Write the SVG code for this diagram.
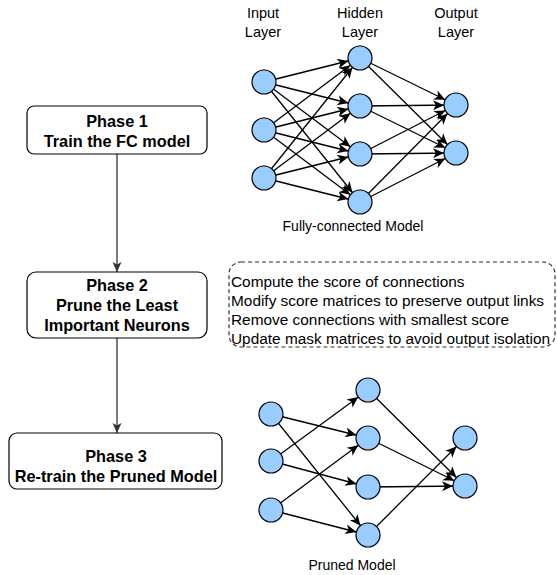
<svg xmlns="http://www.w3.org/2000/svg" width="557" height="575" viewBox="0 0 557 575">
<style>
.n{fill:#99CCFF;stroke:#000;stroke-width:1.2}
.e{stroke:#000;stroke-width:1.3;fill:none;marker-end:url(#an)}
.f{stroke:#333;stroke-width:1.3;fill:none;marker-end:url(#a)}
.box{fill:#fff;stroke:#000;stroke-width:1.2}
.pt{font-family:"Liberation Sans",Arial,sans-serif;font-weight:bold;font-size:16.3px;text-anchor:middle;fill:#000}
.lb{font-family:"Liberation Sans",Arial,sans-serif;font-size:14.5px;text-anchor:middle;fill:#000}
.tx{font-family:"Liberation Sans",Arial,sans-serif;font-size:15.4px;fill:#000}
</style>
<defs>
<marker id="an" markerUnits="userSpaceOnUse" markerWidth="40" markerHeight="12" viewBox="0 0 40 12" refX="23" refY="5" orient="auto" overflow="visible">
<path d="M0,0 L11,5 L0,10 L3,5 z" fill="#000"/>
</marker>
<marker id="a" markerUnits="userSpaceOnUse" markerWidth="12" markerHeight="12" viewBox="0 0 12 12" refX="10" refY="4.5" orient="auto" overflow="visible">
<path d="M0,0 L10,4.5 L0,9 L2.5,4.5 z" fill="#333"/>
</marker>
</defs>

<g id="labels">
<text class="lb" x="263" y="18">Input</text>
<text class="lb" x="263" y="37">Layer</text>
<text class="lb" x="360" y="18">Hidden</text>
<text class="lb" x="360" y="37">Layer</text>
<text class="lb" x="456" y="18">Output</text>
<text class="lb" x="456" y="37">Layer</text>
<text class="lb" x="353" y="231" style="font-size:14px">Fully-connected Model</text>
<text class="lb" x="352" y="570" style="font-size:14px">Pruned Model</text>
</g>

<g id="connectors">
<line class="f" x1="117" y1="154" x2="117" y2="272"/>
<line class="f" x1="117" y1="338" x2="117" y2="433"/>
<line class="e" x1="264" y1="82" x2="360" y2="58"/>
<line class="e" x1="264" y1="82" x2="360" y2="106"/>
<line class="e" x1="264" y1="82" x2="360" y2="154"/>
<line class="e" x1="264" y1="82" x2="360" y2="202"/>
<line class="e" x1="264" y1="130" x2="360" y2="58"/>
<line class="e" x1="264" y1="130" x2="360" y2="106"/>
<line class="e" x1="264" y1="130" x2="360" y2="154"/>
<line class="e" x1="264" y1="130" x2="360" y2="202"/>
<line class="e" x1="264" y1="178" x2="360" y2="58"/>
<line class="e" x1="264" y1="178" x2="360" y2="106"/>
<line class="e" x1="264" y1="178" x2="360" y2="154"/>
<line class="e" x1="264" y1="178" x2="360" y2="202"/>
<line class="e" x1="360" y1="58" x2="456" y2="105"/>
<line class="e" x1="360" y1="58" x2="456" y2="153"/>
<line class="e" x1="360" y1="106" x2="456" y2="105"/>
<line class="e" x1="360" y1="106" x2="456" y2="153"/>
<line class="e" x1="360" y1="154" x2="456" y2="105"/>
<line class="e" x1="360" y1="154" x2="456" y2="153"/>
<line class="e" x1="360" y1="202" x2="456" y2="105"/>
<line class="e" x1="360" y1="202" x2="456" y2="153"/>
<line class="e" x1="271" y1="414" x2="368" y2="438"/>
<line class="e" x1="271" y1="414" x2="368" y2="535"/>
<line class="e" x1="271" y1="461" x2="368" y2="390"/>
<line class="e" x1="271" y1="461" x2="368" y2="487"/>
<line class="e" x1="271" y1="510" x2="368" y2="438"/>
<line class="e" x1="271" y1="510" x2="368" y2="535"/>
<line class="e" x1="368" y1="390" x2="465" y2="486"/>
<line class="e" x1="368" y1="438" x2="465" y2="486"/>
<line class="e" x1="368" y1="487" x2="465" y2="486"/>
<line class="e" x1="368" y1="535" x2="465" y2="438"/>
</g>

<g id="phase1">
<rect class="box" x="27" y="106" width="180" height="48" rx="7"/>
<text class="pt" x="117" y="127">Phase 1</text>
<text class="pt" x="117" y="147">Train the FC model</text>
</g>
<g id="phase2">
<rect class="box" x="27" y="272" width="180" height="66" rx="9"/>
<text class="pt" x="117" y="291">Phase 2</text>
<text class="pt" x="117" y="311">Prune the Least</text>
<text class="pt" x="117" y="331">Important Neurons</text>
</g>
<g id="phase3">
<rect class="box" x="9" y="433" width="213" height="56" rx="8"/>
<text class="pt" x="116" y="462">Phase 3</text>
<text class="pt" x="116" y="482">Re-train the Pruned Model</text>
</g>
<g id="steps">
<rect x="229" y="262" width="326" height="85" rx="12" fill="none" stroke="#333" stroke-width="1.2" stroke-dasharray="4 3"/>
<text class="tx" x="231" y="287">Compute the score of connections</text>
<text class="tx" x="231" y="306">Modify score matrices to preserve output links</text>
<text class="tx" x="231" y="325">Remove connections with smallest score</text>
<text class="tx" x="231" y="344">Update mask matrices to avoid output isolation</text>
</g>

<g id="fc-in1"><circle class="n" cx="264" cy="82" r="12"/></g>
<g id="fc-in2"><circle class="n" cx="264" cy="130" r="12"/></g>
<g id="fc-in3"><circle class="n" cx="264" cy="178" r="12"/></g>
<g id="fc-h1"><circle class="n" cx="360" cy="58" r="12"/></g>
<g id="fc-h2"><circle class="n" cx="360" cy="106" r="12"/></g>
<g id="fc-h3"><circle class="n" cx="360" cy="154" r="12"/></g>
<g id="fc-h4"><circle class="n" cx="360" cy="202" r="12"/></g>
<g id="fc-o1"><circle class="n" cx="456" cy="105" r="12"/></g>
<g id="fc-o2"><circle class="n" cx="456" cy="153" r="12"/></g>

<g id="pr-in1"><circle class="n" cx="271" cy="414" r="12"/></g>
<g id="pr-in2"><circle class="n" cx="271" cy="461" r="12"/></g>
<g id="pr-in3"><circle class="n" cx="271" cy="510" r="12"/></g>
<g id="pr-h1"><circle class="n" cx="368" cy="390" r="12"/></g>
<g id="pr-h2"><circle class="n" cx="368" cy="438" r="12"/></g>
<g id="pr-h3"><circle class="n" cx="368" cy="487" r="12"/></g>
<g id="pr-h4"><circle class="n" cx="368" cy="535" r="12"/></g>
<g id="pr-o1"><circle class="n" cx="465" cy="438" r="12"/></g>
<g id="pr-o2"><circle class="n" cx="465" cy="486" r="12"/></g>
</svg>
